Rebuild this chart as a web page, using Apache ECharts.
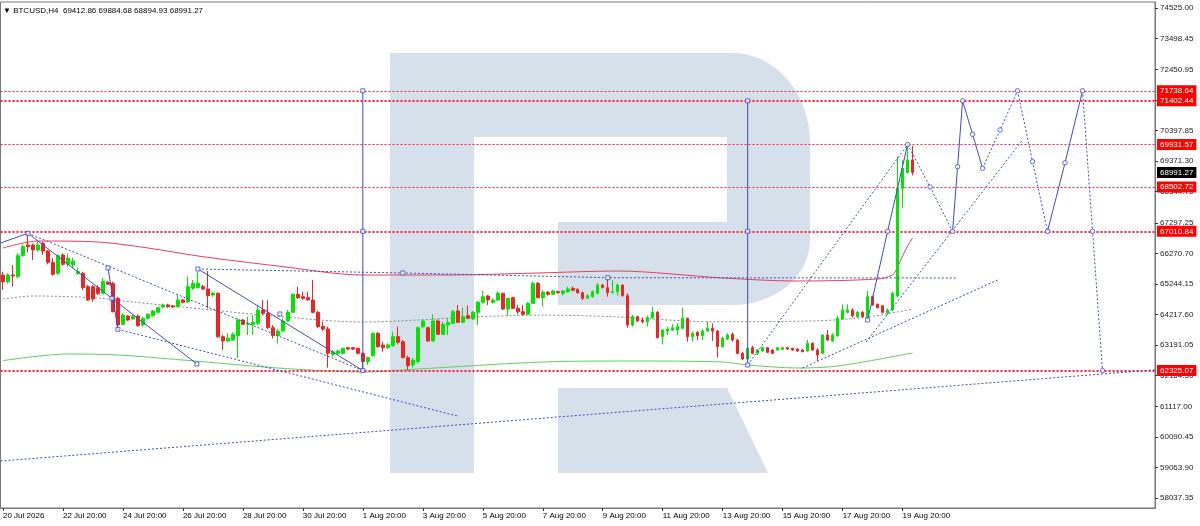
<!DOCTYPE html>
<html>
<head>
<meta charset="utf-8">
<title>BTCUSD H4</title>
<script src="https://cdn.jsdelivr.net/npm/echarts@6/dist/echarts.min.js"></script>
<style>
  html, body { margin: 0; padding: 0; background: #fff; }
  #main { width: 1200px; height: 526px; }
</style>
</head>
<body>
<div id="main"></div>
<script>
// ---- data ----
var header = '\u25BC BTCUSD,H4  69412.86 69884.68 68894.93 68991.27';

// x axis tick labels, one every 12 H4 bars starting at bar 0
var tickLabels = ['20 Jul 2026', '22 Jul 20:00', '24 Jul 20:00', '26 Jul 20:00', '28 Jul 20:00',
    '30 Jul 20:00', '1 Aug 20:00', '3 Aug 20:00', '5 Aug 20:00', '7 Aug 20:00', '9 Aug 20:00',
    '11 Aug 20:00', '13 Aug 20:00', '15 Aug 20:00', '17 Aug 20:00', '19 Aug 20:00'];

// y axis tick labels (MT4 style)
var yTicks = [74525.00, 73498.45, 72450.95, 71424.40, 70397.85, 69371.30, 68344.75, 67297.25,
    66270.70, 65244.15, 64217.60, 63191.05, 62164.50, 61117.00, 60090.45, 59063.90, 58037.35];

// candles: [open, close, low, high]
var candles = [
    [65540, 65316, 65036, 65653], [65316, 65540, 65260, 65597], [65540, 65507, 65148, 65877],
    [65484, 66191, 65428, 66270], [66191, 66494, 66157, 66572], [66550, 66494, 66303, 66943],
    [66550, 66382, 66045, 66606], [66382, 66550, 66326, 66662], [66606, 66348, 66213, 66662],
    [66348, 65967, 65899, 66382], [65967, 65563, 65518, 66101], [65597, 66191, 65540, 66236],
    [66213, 65899, 65855, 66270], [65899, 66101, 65821, 66270], [65877, 66012, 65765, 66124],
    [65597, 65653, 65540, 65787], [65597, 65114, 65036, 65653], [65148, 64699, 64665, 65204],
    [65148, 64733, 64643, 65204], [65114, 64924, 64868, 65204], [64924, 65316, 64890, 65451],
    [65294, 65226, 65204, 65340], [65260, 64307, 64284, 65316], [64755, 63858, 63712, 64811],
    [63880, 64194, 63858, 64250], [64160, 64026, 63993, 64194], [64060, 64160, 64030, 64194],
    [64160, 63835, 63802, 64217], [63858, 64082, 63802, 64138], [64082, 64217, 64050, 64250],
    [64172, 64329, 64138, 64363], [64284, 64441, 64250, 64475], [64464, 64531, 64419, 64575],
    [64531, 64475, 64441, 64575], [64497, 64464, 64419, 64531], [64475, 64699, 64441, 64868],
    [64699, 64621, 64587, 64733], [64643, 65148, 64587, 65484], [65092, 65260, 65036, 65372],
    [65114, 65260, 65092, 65653], [65148, 65069, 65036, 65204], [65069, 64845, 64419, 65675],
    [64868, 64935, 64811, 64980], [64924, 63465, 63432, 64946], [63465, 63319, 63017, 63521],
    [63319, 63409, 63275, 63577], [63353, 63544, 63319, 63611], [63499, 64026, 62736, 64082],
    [64026, 63880, 63858, 64060], [63880, 63914, 63521, 64138], [63880, 63948, 63521, 64194],
    [63914, 64363, 63858, 64531], [64363, 64250, 64194, 64699], [64250, 63768, 63723, 64699],
    [63768, 63499, 63409, 63858], [63499, 63656, 63241, 63723], [63656, 63993, 63634, 64082],
    [63993, 64284, 63970, 64363], [64284, 64890, 64250, 64924], [64890, 64778, 64733, 65148],
    [64811, 64755, 64699, 64980], [64778, 64710, 64665, 64980], [64699, 64284, 64250, 65372],
    [64284, 63802, 63768, 64329], [63813, 63723, 63656, 63970], [63723, 62904, 62422, 63802],
    [62871, 62960, 62792, 63017], [62904, 62983, 62848, 63028], [62904, 63073, 62871, 63095],
    [63095, 63050, 63017, 63118], [63095, 63050, 63017, 63118], [63073, 62904, 62871, 63095],
    [62904, 62624, 62325, 62938], [62624, 62759, 62512, 62792], [62826, 63577, 62792, 63611],
    [63577, 63129, 63095, 63611], [63185, 63095, 62960, 63297], [63095, 63185, 63050, 63241],
    [63162, 63465, 63129, 63634], [63465, 63275, 63207, 63802], [63297, 62759, 62736, 63353],
    [62759, 62490, 62330, 62826], [62512, 62680, 62422, 62759], [62624, 63768, 62568, 63802],
    [63800, 63993, 63746, 64026], [63768, 63319, 63297, 63802], [63319, 63993, 63297, 64217],
    [63993, 63544, 63521, 64049], [63544, 63880, 63521, 63970], [63858, 63936, 63521, 64082],
    [63914, 64307, 63892, 64363], [64329, 63948, 63925, 64531], [63948, 64138, 63914, 64441],
    [64172, 64082, 64049, 64509], [64060, 64284, 64026, 64329], [64284, 64621, 63858, 64665],
    [64621, 64811, 64575, 65002], [64834, 64699, 64531, 64868], [64621, 64699, 64575, 64755],
    [64699, 64924, 64665, 64980], [64924, 64396, 64363, 64946], [64396, 64755, 64172, 64778],
    [64778, 64419, 64396, 64811], [64419, 64307, 64217, 64531], [64307, 64217, 64172, 64531],
    [64217, 64587, 64194, 64621], [64587, 65260, 64553, 65316], [65260, 64778, 64755, 65316],
    [64778, 64957, 64475, 65036], [64957, 64890, 64845, 65002], [64890, 65002, 64868, 65036],
    [64980, 64946, 64912, 65002], [64924, 65002, 64845, 65036], [64980, 65069, 64946, 65148],
    [65092, 65025, 65002, 65148], [65058, 64946, 64912, 65092], [64946, 64755, 64699, 64980],
    [64755, 64845, 64733, 64890], [64811, 64980, 64778, 65025], [64924, 65204, 64890, 65260],
    [65204, 65114, 65092, 65238], [65114, 64946, 64811, 65428], [64946, 64980, 64924, 65372],
    [64980, 65204, 64845, 65260], [65204, 64845, 64811, 65226], [64845, 63858, 63768, 64924],
    [63858, 64138, 63802, 64194], [64138, 63993, 63970, 64172], [64026, 63970, 63914, 64105],
    [63970, 64105, 63802, 64172], [64105, 64284, 64060, 64475], [64284, 63432, 63409, 64329],
    [63465, 63690, 63207, 63723], [63656, 63723, 63521, 63802], [63690, 63768, 63656, 63880],
    [63690, 63802, 63521, 63914], [63746, 64082, 63723, 64441], [64082, 63465, 63297, 64105],
    [63465, 63577, 63297, 63634], [63611, 63499, 63353, 63656], [63499, 63656, 63353, 63723],
    [63656, 63746, 63634, 63970], [63746, 63656, 63319, 63914], [63656, 63129, 62759, 63690],
    [63129, 63409, 63095, 63465], [63387, 63521, 63353, 63577], [63544, 63353, 63297, 63611],
    [63353, 62904, 62871, 63387], [62904, 62714, 62680, 62960], [62714, 63073, 62680, 63129],
    [63095, 62904, 62871, 63162], [62904, 63017, 62848, 63050], [62983, 63095, 62960, 63129],
    [63095, 62938, 62915, 63118], [63017, 62904, 62880, 63040], [63017, 63095, 62990, 63118],
    [63040, 63095, 63017, 63129], [63095, 63050, 63017, 63129], [63073, 63017, 62990, 63095],
    [63050, 62983, 62960, 63073], [63017, 62960, 62938, 63050], [62983, 63241, 62960, 63353],
    [63241, 63017, 62983, 63275], [63017, 62848, 62647, 63073], [62904, 63521, 62871, 63544],
    [63521, 63353, 63319, 63690], [63319, 63521, 63297, 63577], [63499, 64082, 63465, 64172],
    [64060, 64363, 64026, 64553], [64284, 64363, 64250, 64553], [64363, 64172, 64105, 64419],
    [64138, 64284, 64105, 64329], [64284, 64138, 64105, 64329], [64138, 64811, 64026, 65002],
    [64811, 64531, 64509, 64845], [64553, 64441, 64419, 64587], [64509, 64284, 64250, 64531],
    [64284, 64363, 64194, 64419], [64363, 64924, 64329, 64980], [64834, 68457, 64789, 69522],
    [68457, 69130, 67784, 69410], [68984, 69410, 68960, 69931.57], [69412.86, 68991.27, 68894.93, 69884.68]
];

// moving averages, sampled as [bar, price]
var maRed = [[0, 66449], [7, 66684], [19, 66651], [29, 66449], [39, 66180], [55, 65843], [72, 65540],
    [89, 65540], [107, 65608], [123, 65675], [144, 65440], [159, 65338], [175, 65406], [178, 65540],
    [179, 65810], [180, 66180], [181, 66516], [182, 66786]];
var maGreen = [[0, 62660], [13, 62882], [23, 62848], [36, 62680], [55, 62411], [72, 62276], [83, 62377],
    [108, 62613], [127, 62647], [144, 62613], [149, 62512], [159, 62411], [167, 62478], [182, 62916]];
var maGray = [[0, 64733], [6, 64834], [19, 64766], [26, 64632], [36, 64463], [52, 64194], [72, 63959],
    [95, 64137], [108, 64190], [122, 64137], [142, 63969], [163, 64000], [173, 64127], [182, 64396]];

// horizontal levels and the last price
var levelValues = [71738.64, 71402.44, 69931.57, 68502.72, 67010.84, 62325.07];
var levelWidths = [1, 2, 1, 1, 2, 2];
var lastPrice = 68991.27;

// analysis drawings, [bar, price]
var solidPaths = [
    [[-0.5, 66617], [5, 66943]],
    [[5, 66943], [38.8, 62545]],
    [[21, 65780], [23, 63712]],
    [[39, 65742], [72, 62325.07]],
    [[72, 71738.64], [72, 62325.07]],
    [[149, 71402.44], [149, 62512]],
    [[173, 64026], [177, 67010.84], [181, 69931.57]],
    [[190, 67010.84], [191, 69185], [192, 71402.44]],
    [[192, 71402.44], [194, 70275], [196, 69131]],
    [[209, 67010.84], [212.5, 69319], [216, 71738.64]]
];
var dashedPaths = [
    [[5, 66943], [72, 62325.07]],
    [[23, 63712], [90.9, 60796]],
    [[39, 65742], [80, 65608], [121, 65449], [190.7, 65440]],
    [[149, 62512], [181, 69931.57]],
    [[160, 62411], [199, 65372]],
    [[172.7, 63286], [204, 70083]],
    [[-0.5, 59280], [230.5, 62350]],
    [[181, 69931.57], [185.5, 68502.72], [190, 67010.84]],
    [[196, 69131], [199.5, 70420], [203, 71738.64]],
    [[203, 71738.64], [206, 69353], [209, 67010.84]],
    [[216, 71738.64], [218, 67010.84], [220, 62325.07]]
];
var squareMarks = [[5, 66943], [21, 65780], [21.8, 64760], [23, 63712], [39, 65742], [38.8, 62545],
    [55.4, 64229], [72, 71738.64], [72, 67010.84], [72, 62325.07], [80, 65608], [121, 65449],
    [149, 71402.44], [149, 67010.84], [149, 62512], [173, 64026]];
var circleMarks = [[177, 67010.84], [181, 69931.57], [185.5, 68502.72], [190, 67010.84], [191, 69185],
    [192, 71402.44], [194, 70275], [196, 69131], [199.5, 70420], [203, 71738.64], [206, 69353],
    [209, 67010.84], [212.5, 69319], [216, 71738.64], [218, 67010.84], [220, 62325.07]];

// ---- chart ----
var barCount = 231;
var font = 'Liberation Sans, Arial, sans-serif';
var blue = '#3d4bc4';
var cats = [];
for (var i = 0; i < barCount; i++) cats.push(String(i));

function showTick(index) {
    return index % 12 === 0 && index / 12 < tickLabels.length;
}

// watermark "R" outline (page pixels)
function arcPts(cx, cy, rx, ry, a0, a1) {
    var pts = [];
    for (var k = 0; k <= 16; k++) {
        var a = (a0 + (a1 - a0) * k / 16) * Math.PI / 180;
        pts.push([cx + rx * Math.cos(a), cy + ry * Math.sin(a)]);
    }
    return pts;
}
var bowl = [[474, 53], [733, 53]]
    .concat(arcPts(733, 143, 77, 90, -90, 0))
    .concat(arcPts(733, 240, 77, 65, 0, 90))
    .concat([[558, 305], [558, 222], [727, 222], [727, 137], [474, 137]]);

var myChart = echarts.init(document.getElementById('main'));

var labelBase = {
    show: true, position: 'end', distance: 2,
    formatter: function (p) { return Number(p.value).toFixed(2); },
    color: '#fff', fontSize: 8, fontFamily: font, padding: [2, 3, 1, 3]
};

var series = [];
series.push({
    type: 'candlestick',
    data: candles,
    barWidth: 3,
    z: 5,
    itemStyle: {
        color: '#00e600', color0: '#ee2424',
        borderColor: '#00e600', borderColor0: '#ee2424', borderWidth: 1
    },
    markLine: {
        symbol: ['none', 'none'],
        silent: true,
        animation: false,
        data: levelValues.map(function (v, k) {
            return {
                yAxis: v,
                lineStyle: {color: '#ff1c3c', width: levelWidths[k], type: [2, 2]},
                label: Object.assign({}, labelBase, {backgroundColor: '#ff0000'})
            };
        }).concat([{
            yAxis: lastPrice,
            lineStyle: {color: 'rgba(0,0,0,0)', width: 0},
            label: Object.assign({}, labelBase, {backgroundColor: '#000'})
        }]),
        label: labelBase
    }
});

function maLine(data, color, type) {
    return {
        type: 'line', xAxisIndex: 1, data: data, symbol: 'none', smooth: 0.3, silent: true, z: 3,
        lineStyle: {color: color, width: 1, type: type}
    };
}
series.push(maLine(maRed, '#e6405c', 'solid'));
series.push(maLine(maGreen, '#62cf62', 'solid'));
series.push(maLine(maGray, '#8a8a8a', [2, 2]));

solidPaths.forEach(function (p) {
    series.push({type: 'line', xAxisIndex: 1, data: p, symbol: 'none', silent: true, z: 6,
        lineStyle: {color: blue, width: 1}});
});
dashedPaths.forEach(function (p) {
    series.push({type: 'line', xAxisIndex: 1, data: p, symbol: 'none', silent: true, z: 6,
        lineStyle: {color: blue, width: 1, type: [2, 2]}});
});
series.push({type: 'scatter', xAxisIndex: 1, data: squareMarks, symbol: 'rect', symbolSize: 4, z: 7,
    itemStyle: {color: '#fff', borderColor: blue, borderWidth: 1}});
series.push({type: 'scatter', xAxisIndex: 1, data: circleMarks, symbol: 'circle', symbolSize: 4.5, z: 7,
    itemStyle: {color: '#fff', borderColor: blue, borderWidth: 1}});

var option = {
    animation: false,
    backgroundColor: '#fff',
    title: {
        text: header, left: -2, top: 2,
        textStyle: {fontSize: 8, fontWeight: 'normal', color: '#000', fontFamily: font}
    },
    graphic: [
        {type: 'rect', z: -10, silent: true, shape: {x: 390, y: 53, width: 84, height: 420}, style: {fill: '#d6e0eb'}},
        {type: 'polygon', z: -10, silent: true, shape: {points: bowl}, style: {fill: '#d6e0eb'}},
        {type: 'polygon', z: -10, silent: true, shape: {points: [[558, 388], [727, 388], [768, 473], [558, 473]]}, style: {fill: '#d6e0eb'}}
    ],
    grid: {left: 0, right: 45, top: 2, bottom: 18, show: true, borderColor: '#777', borderWidth: 1},
    xAxis: [{
        type: 'category',
        data: cats,
        boundaryGap: true,
        axisLine: {show: true, onZero: false, lineStyle: {color: '#777'}},
        axisTick: {show: true, alignWithLabel: true, interval: showTick, length: 3, lineStyle: {color: '#333'}},
        axisLabel: {
            interval: showTick, align: 'left', margin: 4, color: '#000', fontSize: 8, fontFamily: font,
            formatter: function (v) { return tickLabels[Number(v) / 12] || ''; }
        },
        splitLine: {show: false}
    }, {
        type: 'value', min: -0.5, max: barCount - 0.5, show: false,
        axisLine: {onZero: false}
    }],
    yAxis: {
        type: 'value', position: 'right', min: 57700, max: 74727,
        axisLine: {show: true, onZero: false, lineStyle: {color: '#777'}},
        axisTick: {show: true, length: 3, customValues: yTicks, lineStyle: {color: '#333'}},
        axisLabel: {
            customValues: yTicks, margin: 5, color: '#222', fontSize: 8, fontFamily: font,
            formatter: function (v) { return Number(v).toFixed(2); }
        },
        splitLine: {show: false}
    },
    series: series
};

myChart.setOption(option);
</script>
</body>
</html>
